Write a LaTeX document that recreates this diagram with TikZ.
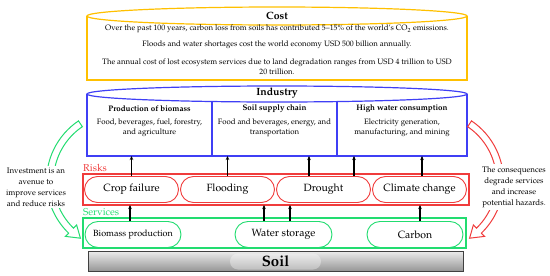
\documentclass[tikz,border=0pt]{standalone}
\usepackage[T1]{fontenc}
\usepackage{mathpazo}
\usetikzlibrary{arrows.meta, positioning, calc}

\begin{document}
\begin{tikzpicture}[
    x=1pt, y=1pt,
    every node/.style={inner sep=0pt},
    bodytext/.style={font=\fontsize{7.8}{10}\selectfont, align=center},
    headtext/.style={font=\fontsize{8}{10}\selectfont\bfseries},
    titletext/.style={font=\fontsize{10.5}{12}\selectfont\bfseries},
    pill/.style={draw, line width=0.9, rounded corners=13pt, minimum height=26,
        font=\fontsize{10.5}{12}\selectfont},
    uparrow/.style={-{Stealth[length=4pt, width=3.5pt]}, line width=1.1, black},
    sidetext/.style={font=\fontsize{8}{11}\selectfont, align=center, fill=white,
        inner sep=2pt},
    grouplabel/.style={font=\fontsize{10}{12}\selectfont, anchor=base west},
]

\definecolor{costcol}{HTML}{FFC000}   % cost, top
\definecolor{indcol}{HTML}{3F3FF5}
\definecolor{riskcol}{HTML}{F03C3C}
\definecolor{servcol}{HTML}{22DC70}

\useasboundingbox (0,0) rectangle (550,-276);

% ---------------------------------------------------------------- cost
\draw[costcol, line width=1.2] (87,-16) -- (87,-80) -- (467,-80) -- (467,-16);
\draw[costcol, line width=1.2] (277,-16) ellipse [x radius=190, y radius=9];
\node[titletext] (costtitle) at (277,-16) {Cost};
\node[bodytext] (cost1) at (277,-29)
    {Over the past 100 years, carbon loss from soils has contributed 5--15\% of the world's CO\textsubscript{2} emissions.};
\node[bodytext] (cost2) at (277,-45)
    {Floods and water shortages cost the world economy USD 500 billion annually.};
\node[bodytext] (cost3) at (277,-67)
    {The annual cost of lost ecosystem services due to land degradation ranges from USD 4 trillion to USD\\ 20 trillion.};

% ---------------------------------------------------------------- industry
\draw[indcol, line width=1.2] (87,-94) -- (87,-156) -- (467,-156) -- (467,-94);
\draw[indcol, line width=1.2] (277,-94) ellipse [x radius=190, y radius=8];
\draw[indcol, line width=1.2] (212,-101) -- (212,-156);
\draw[indcol, line width=1.2] (337,-101) -- (337,-156);
\coordinate (indbase) at (87,-156);
\node[titletext] (indtitle) at (277,-93) {Industry};

\node[headtext] (biohead) at (149.5,-109) {Production of biomass};
\node[bodytext] (biotxt) at (149.5,-128) {Food, beverages, fuel, forestry,\\ and agriculture};
\node[headtext] (supphead) at (274.5,-109) {Soil supply chain};
\node[bodytext] (supptxt) at (274.5,-128) {Food and beverages, energy, and\\ transportation};
\node[headtext] (waterhead) at (402,-109) {High water consumption};
\node[bodytext] (watertxt) at (402,-128) {Electricity generation,\\ manufacturing, and mining};

% ---------------------------------------------------------------- risks
\node[grouplabel, text=riskcol] (risklbl) at (83,-171) {Risks};
\draw[riskcol, line width=1.2] (83,-174) rectangle (469,-205);
\coordinate (riskbase) at (83,-205);
\node[pill, draw=riskcol, minimum width=94] (crop) at (131.5,-189.5) {Crop failure};
\node[pill, draw=riskcol, minimum width=94] (flood) at (227.5,-189.5) {Flooding};
\node[pill, draw=riskcol, minimum width=94] (drought) at (323.5,-189.5) {Drought};
\node[pill, draw=riskcol, minimum width=94] (climate) at (419.5,-189.5) {Climate change};

% ---------------------------------------------------------------- services
\node[grouplabel, text=servcol] (servlbl) at (83,-215) {Services};
\draw[servcol, line width=1.2] (83,-218) rectangle (466,-248);
\node[pill, draw=servcol, minimum width=96, font=\fontsize{9}{11}\selectfont]
    (biomass) at (133,-234.5) {Biomass production};
\node[pill, draw=servcol, minimum width=97] (storage) at (283.5,-234.5) {Water storage};
\node[pill, draw=servcol, minimum width=96] (carbon) at (415,-234.5) {Carbon};

% ---------------------------------------------------------------- soil
\shade[draw=black!75, line width=0.8, top color=black!8, bottom color=black!42]
    (88,-251.5) rectangle (463,-271.5);
\fill[white, opacity=0.35, rounded corners=8] (230,-253.5) rectangle (321,-269.5);
\node[font=\fontsize{15}{16}\selectfont\bfseries] (soil) at (275.5,-261.5) {Soil};

% ---------------------------------------------------------------- arrows up
\draw[uparrow] (crop.north) -- (crop.north |- indbase);
\draw[uparrow] (flood.north) -- (flood.north |- indbase);
\draw[uparrow] ([xshift=-14.5]drought.north) -- ([xshift=-14.5]drought.north |- indbase);
\draw[uparrow] ([xshift=30.5]drought.north) -- ([xshift=30.5]drought.north |- indbase);
\draw[uparrow] ([xshift=2.5]climate.north) -- ([xshift=2.5]climate.north |- indbase);

\draw[uparrow] ([xshift=-3]biomass.north) -- ([xshift=-3]biomass.north |- riskbase);
\draw[uparrow] ([xshift=-19.5]storage.north) -- ([xshift=-19.5]storage.north |- riskbase);
\draw[uparrow] ([xshift=6.5]storage.north) -- ([xshift=6.5]storage.north |- riskbase);
\draw[uparrow] ([xshift=5]carbon.north) -- ([xshift=5]carbon.north |- riskbase);

% ---------------------------------------------------------------- side loops
\draw[servcol, line width=1, fill=white, shift={(119,-181)}]
    (124:72.5) arc[start angle=124, end angle=226, radius=72.5]
    -- (226:77) -- (236:69) -- (226:61) -- (226:65.5)
    arc[start angle=226, end angle=124, radius=65.5] -- cycle;
\node[sidetext] (invest) at (36,-187)
    {Investment is an\\ avenue to\\ improve services\\ and reduce risks};

\draw[riskcol, line width=1, fill=white, shift={(431,-181)}]
    (56:72.5) arc[start angle=56, end angle=-46, radius=72.5]
    -- (-46:77) -- (-56:69) -- (-46:61) -- (-46:65.5)
    arc[start angle=-46, end angle=56, radius=65.5] -- cycle;
\node[sidetext] (conseq) at (514,-187)
    {The consequences\\ degrade services\\ and increase\\ potential hazards.};

\end{tikzpicture}
\end{document}
